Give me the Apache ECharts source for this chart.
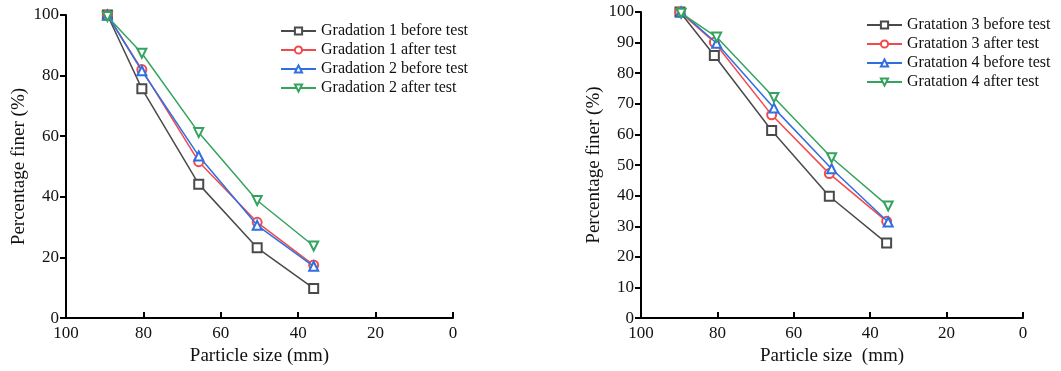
<!DOCTYPE html>
<html>
<head>
<meta charset="utf-8">
<script src="https://cdn.jsdelivr.net/npm/echarts@6/dist/echarts.min.js"></script>
<style>
  html, body { margin: 0; padding: 0; background: #fff; }
  #chart { width: 1061px; height: 371px; }
</style>
</head>
<body>
<div id="chart"></div>
<script>
// particle sizes (mm)
const sizesLeft = [89.3, 80.4, 65.7, 50.6, 36.0];
const sizesRightA = [89.8, 80.8, 65.8, 50.7, 35.7];
const sizesRightB = [89.5, 80.2, 65.2, 50.1, 35.3];

// percentage finer (%)
const g1Before = [100, 75.7, 44.2, 23.2, 9.8];
const g1After = [100, 82.0, 51.6, 31.6, 17.5];
const g2Before = [100, 81.6, 53.5, 30.6, 17.1];
const g2After = [99.5, 87.4, 61.2, 38.8, 23.8];

const g3Before = [100, 85.8, 61.3, 39.8, 24.5];
const g3After = [100, 90.1, 66.4, 47.2, 31.6];
const g4Before = [100, 89.8, 68.6, 48.8, 31.4];
const g4After = [99.6, 91.8, 72.1, 52.4, 36.6];

const namesLeft = ["Gradation 1 before test", "Gradation 1 after test", "Gradation 2 before test", "Gradation 2 after test"];
const namesRight = ["Gratation 3 before test", "Gratation 3 after test", "Gratation 4 before test", "Gratation 4 after test"];

const colors = ["#4a4a4a", "#f24a4c", "#2f6fe0", "#34a35e"];
const symbols = ["emptyRect", "emptyCircle", "emptyTriangle", "emptyTriangle"];
const rotates = [0, 0, 0, 180];
const FONT = "Liberation Serif";

const zip = (xs, ys) => xs.map((x, i) => [x, ys[i]]);

function xAxisFor(idx, name) {
  return {
    gridIndex: idx, type: "value", inverse: true, min: 0, max: 100, interval: 20,
    name: name, nameLocation: "middle", nameGap: 28,
    nameTextStyle: { fontFamily: FONT, fontSize: 19, color: "#111" },
    axisLine: { show: true, onZero: false, lineStyle: { color: "#000", width: 2 } },
    axisTick: { show: true, inside: true, length: 6, lineStyle: { color: "#000", width: 2 } },
    axisLabel: { fontFamily: FONT, fontSize: 17, color: "#111", margin: 7 },
    splitLine: { show: false }
  };
}
function yAxisFor(idx, interval) {
  return {
    gridIndex: idx, type: "value", min: 0, max: 100, interval: interval,
    name: "Percentage finer (%)", nameLocation: "middle", nameGap: 37,
    nameTextStyle: { fontFamily: FONT, fontSize: 19, color: "#111" },
    axisLine: { show: true, onZero: false, lineStyle: { color: "#000", width: 2 } },
    axisTick: { show: true, inside: false, length: 6, lineStyle: { color: "#000", width: 2 } },
    axisLabel: { fontFamily: FONT, fontSize: 17, color: "#111", margin: 7 },
    splitLine: { show: false }
  };
}
function seriesFor(idx, names, xsList, ysList) {
  return names.map((n, i) => ({
    name: n, type: "line", xAxisIndex: idx, yAxisIndex: idx,
    data: zip(xsList[i], ysList[i]),
    symbol: symbols[i], symbolSize: 9, symbolRotate: rotates[i],
    showSymbol: true,
    lineStyle: { color: colors[i], width: 1.5 },
    itemStyle: { color: colors[i], borderWidth: 1 },
    z: 2 + i
  }));
}
function legendFor(names, left, top) {
  return {
    data: names, left: left, top: top, orient: "vertical",
    itemWidth: 35, itemHeight: 9, itemGap: 3,
    textStyle: { fontFamily: FONT, fontSize: 16, color: "#111" }
  };
}

const chart = echarts.init(document.getElementById("chart"));
chart.setOption({
  animation: false,
  backgroundColor: "#fff",
  grid: [
    { left: 66, top: 15, width: 387, height: 305 },
    { left: 641, top: 12, width: 382, height: 307 }
  ],
  legend: [
    legendFor(namesLeft, 275, 18),
    legendFor(namesRight, 861, 12)
  ],
  xAxis: [xAxisFor(0, "Particle size (mm)"), xAxisFor(1, "Particle size  (mm)")],
  yAxis: [yAxisFor(0, 20), yAxisFor(1, 10)],
  series: [
    ...seriesFor(0, namesLeft, [sizesLeft, sizesLeft, sizesLeft, sizesLeft], [g1Before, g1After, g2Before, g2After]),
    ...seriesFor(1, namesRight, [sizesRightA, sizesRightA, sizesRightB, sizesRightB], [g3Before, g3After, g4Before, g4After])
  ]
});
</script>
</body>
</html>
